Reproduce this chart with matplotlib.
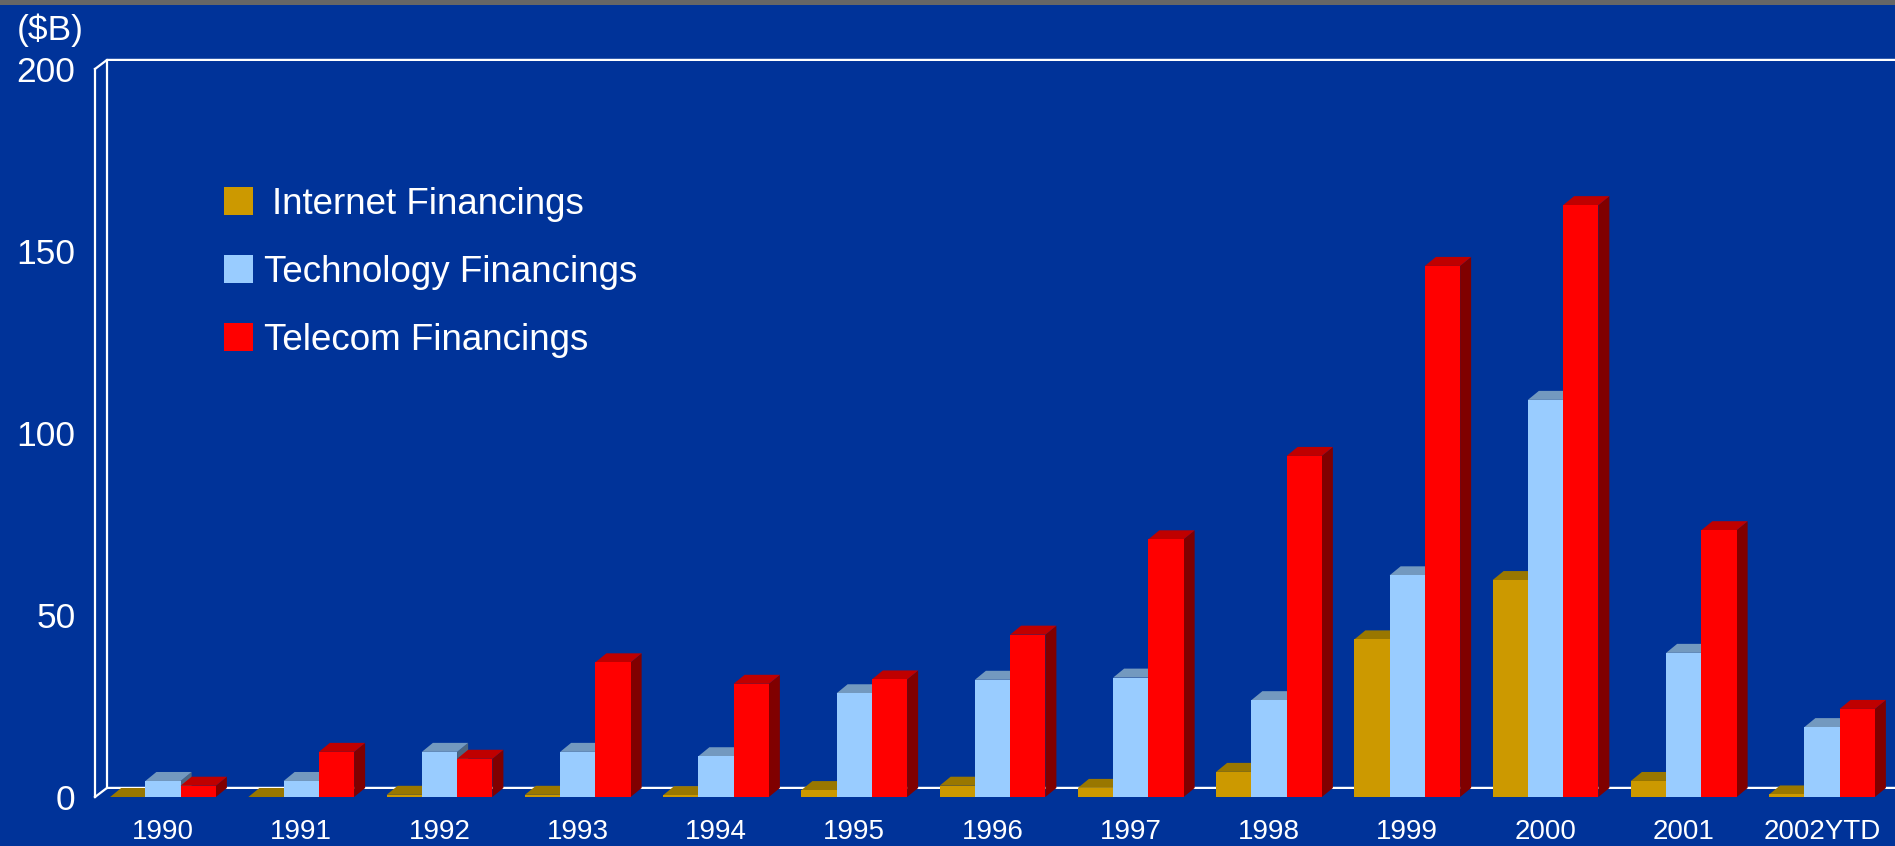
import matplotlib
matplotlib.use("Agg")
import matplotlib.pyplot as plt
from matplotlib.collections import PolyCollection
from matplotlib.patches import Rectangle

plt.rcParams['font.family'] = ['Liberation Sans', 'DejaVu Sans']

# Data ($B)
years = ["1990", "1991", "1992", "1993", "1994", "1995", "1996",
         "1997", "1998", "1999", "2000", "2001", "2002YTD"]
internet = [0, 0, 0.6, 0.6, 0.5, 1.9, 3.1, 2.5, 6.9, 43.3, 59.6, 4.4, 0.7]
technology = [4.4, 4.4, 12.4, 12.4, 11.2, 28.5, 32.2, 32.8, 26.6, 60.9, 109.1, 39.6, 19.2]
telecom = [3.1, 12.4, 10.5, 37.0, 31.1, 32.3, 44.6, 70.8, 93.7, 145.9, 162.6, 73.3, 24.2]

series = [
    ("Internet Financings", internet, "#CC9900", "#997700", "#7A5F00"),
    ("Technology Financings", technology, "#99CCFF", "#7399BF", "#4D6680"),
    ("Telecom Financings", telecom, "#FF0000", "#BF0000", "#800000"),
]

bg = "#003399"
W, H = 1895, 846
fig = plt.figure(figsize=(W / 100, H / 100), dpi=100, facecolor=bg)

# axes: front-left edge at x=95px, y=0 at 797px, y=200 at 69px
ax = fig.add_axes([95 / W, 49 / H, (W - 95) / W, 728 / H])
ax.set_facecolor(bg)
step = 138.25
ax.set_xlim((95 - 163) / step, (W - 163) / step)
ax.set_ylim(0, 200)

width = 0.255
dx, dy = 11 / step, 9 / 3.64   # depth of the bars

for j, (name, vals, front, top, side) in enumerate(series):
    xs = [i + (j - 1) * width for i in range(len(years))]
    tops, sides = [], []
    for x, v in zip(xs, vals):
        x0, x1 = x - width / 2, x + width / 2
        tops.append([(x0, v), (x1, v), (x1 + dx, v + dy), (x0 + dx, v + dy)])
        sides.append([(x1, 0), (x1 + dx, dy), (x1 + dx, v + dy), (x1, v)])
    ax.add_collection(PolyCollection(sides, facecolors=side, edgecolors="none", zorder=3 + j))
    ax.add_collection(PolyCollection(tops, facecolors=top, edgecolors="none", zorder=3 + j))
    ax.bar(xs, vals, width=width, color=front, linewidth=0, zorder=3.5 + j)

# back wall and floor
x_left = ax.get_xlim()[0]
x_right = ax.get_xlim()[1]
wdx, wdy = 12 / step, 2.5
lw = 1.6
ax.plot([x_left, x_left + wdx, x_right], [0, wdy, wdy], color="white", lw=lw, zorder=1, clip_on=False)
ax.plot([x_left, x_left + wdx, x_right], [200, 200 + wdy, 200 + wdy], color="white", lw=lw, zorder=1, clip_on=False)
ax.plot([x_left + wdx, x_left + wdx], [wdy, 200 + wdy], color="white", lw=lw, zorder=1, clip_on=False)

for s in ["top", "right", "bottom"]:
    ax.spines[s].set_visible(False)
ax.spines["left"].set_color("white")
ax.spines["left"].set_linewidth(lw)

ax.set_yticks([0, 50, 100, 150, 200])
ax.set_xticks(range(len(years)), years)
ax.tick_params(axis="y", length=0, pad=14, labelsize=25.5, labelcolor="white")
ax.tick_params(axis="x", length=0, pad=16, labelsize=20, labelcolor="white")

fig.text(17 / W, 1 - 30 / H, "($B)", color="white", fontsize=25.5, va="center", ha="left")

# legend
legend_y = [201, 269, 337]
text_x = [272, 264, 264]
for (name, vals, front, top, side), yc, tx in zip(series, legend_y, text_x):
    fig.add_artist(Rectangle((224 / W, 1 - (yc + 14) / H), 29 / W, 28 / H,
                             transform=fig.transFigure, facecolor=front, edgecolor="none"))
    fig.text(tx / W, 1 - (yc + 3) / H, name, color="white", fontsize=26.5, va="center", ha="left")

# grey strip at top
fig.add_artist(Rectangle((0, 1 - 5 / H), 1, 5 / H, transform=fig.transFigure,
                         facecolor="#666666", edgecolor="none"))

fig.savefig("out.png", dpi=100, facecolor=bg)
